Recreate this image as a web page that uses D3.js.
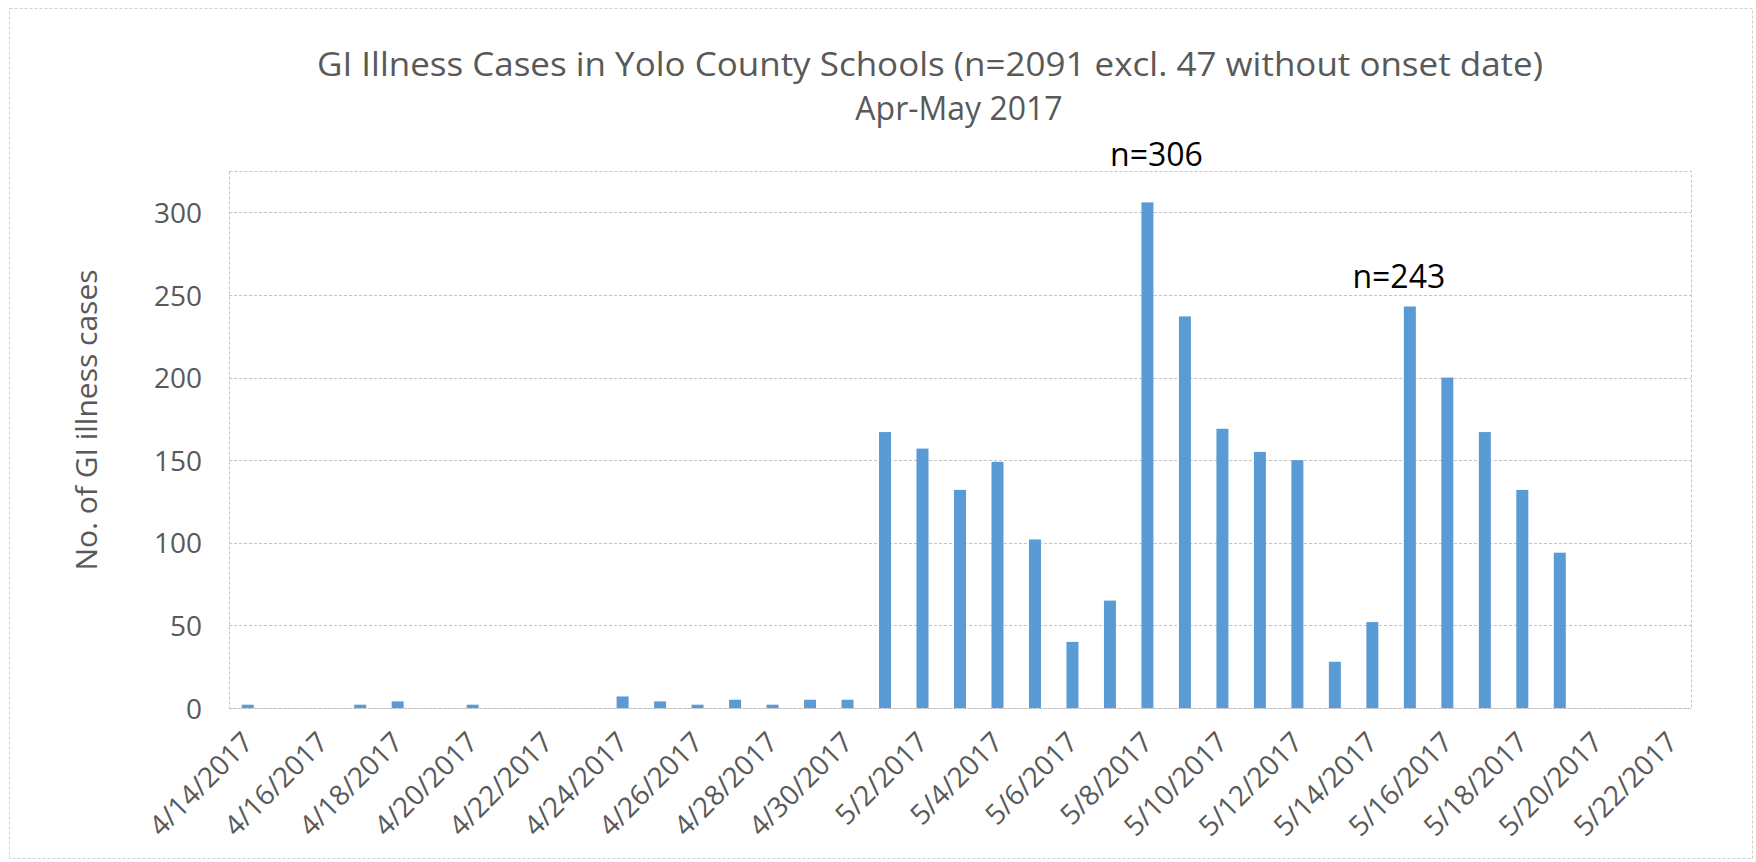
<!DOCTYPE html>
<html>
<head>
<meta charset="utf-8">
<script src="https://cdn.jsdelivr.net/npm/d3@7"></script>
<style>
    body { margin: 0; background: #fff; }
</style>
</head>
<body>
<div id="chart"></div>
<script>
// Chart data.
const dates = [
    "4/14/2017", "4/15/2017", "4/16/2017", "4/17/2017", "4/18/2017", "4/19/2017",
    "4/20/2017", "4/21/2017", "4/22/2017", "4/23/2017", "4/24/2017", "4/25/2017",
    "4/26/2017", "4/27/2017", "4/28/2017", "4/29/2017", "4/30/2017",
    "5/1/2017", "5/2/2017", "5/3/2017", "5/4/2017", "5/5/2017", "5/6/2017",
    "5/7/2017", "5/8/2017", "5/9/2017", "5/10/2017", "5/11/2017", "5/12/2017",
    "5/13/2017", "5/14/2017", "5/15/2017", "5/16/2017", "5/17/2017", "5/18/2017",
    "5/19/2017", "5/20/2017", "5/21/2017", "5/22/2017"
];
const cases = [
    2, 0, 0, 2, 4, 0, 2, 0, 0, 0, 7, 4, 2, 5, 2, 5, 5,
    167, 157, 132, 149, 102, 40, 65, 306, 237, 169, 155, 150, 28, 52, 243, 200, 167, 132, 94, 0, 0, 0
];
const tickDates = [
    "4/14/2017", "4/16/2017", "4/18/2017", "4/20/2017", "4/22/2017", "4/24/2017",
    "4/26/2017", "4/28/2017", "4/30/2017", "5/2/2017", "5/4/2017", "5/6/2017",
    "5/8/2017", "5/10/2017", "5/12/2017", "5/14/2017", "5/16/2017", "5/18/2017",
    "5/20/2017", "5/22/2017"
];
const yTicks = [0, 50, 100, 150, 200, 250, 300];
const yMax = 325;
const annotations = [
    { date: "5/8/2017", text: "n=306" },
    { date: "5/15/2017", text: "n=243" }
];
const titleLines = [
    "GI Illness Cases in Yolo County Schools (n=2091 excl. 47 without onset date)",
    "Apr-May 2017"
];
const yLabel = "No. of GI illness cases";

// Dimensions.
const width = 1756;
const height = 862;
const marginLeft = 229;
const marginRight = 65;
const marginTop = 171;
const marginBottom = 154;
const font = "'Open Sans', 'Noto Sans', sans-serif";
const textColor = "#595959";
const gridColor = "#c4c4c4";

const svg = d3.select("#chart")
    .append("svg")
    .attr("width", width)
    .attr("height", height)
    .attr("viewBox", [0, 0, width, height])
    .attr("font-family", font);

// Outer chart border.
svg.append("rect")
    .attr("x", 9.5)
    .attr("y", 8.5)
    .attr("width", width - 13)
    .attr("height", height - 12)
    .attr("fill", "none")
    .attr("stroke", "#d0d0d0")
    .attr("stroke-dasharray", "3,2");

const x = d3.scaleBand()
    .domain(dates)
    .range([marginLeft, width - marginRight])
    .paddingInner(0.68)
    .paddingOuter(0.34);

const y = d3.scaleLinear()
    .domain([0, yMax])
    .range([height - marginBottom, marginTop]);

// Gridlines.
svg.append("g")
    .attr("stroke", gridColor)
    .attr("stroke-dasharray", "3,2")
    .selectAll("line")
    .data(yTicks)
    .join("line")
        .attr("x1", marginLeft)
        .attr("x2", width - marginRight)
        .attr("y1", d => Math.round(y(d)) + 0.5)
        .attr("y2", d => Math.round(y(d)) + 0.5);

// Plot area border.
svg.append("rect")
    .attr("x", marginLeft + 0.5)
    .attr("y", marginTop + 0.5)
    .attr("width", width - marginRight - marginLeft)
    .attr("height", height - marginBottom - marginTop)
    .attr("fill", "none")
    .attr("stroke", gridColor)
    .attr("stroke-dasharray", "3,2");

// Bars.
svg.append("g")
    .attr("fill", "#5b9bd5")
    .selectAll("rect")
    .data(dates.map((d, i) => ({ date: d, value: cases[i] })))
    .join("rect")
        .attr("x", d => x(d.date))
        .attr("y", d => y(d.value))
        .attr("width", x.bandwidth())
        .attr("height", d => y(0) - y(d.value));

// Y axis.
const yAxis = svg.append("g")
    .attr("transform", `translate(${marginLeft - 27},0)`)
    .call(d3.axisLeft(y).tickValues(yTicks).tickSize(0).tickPadding(0));
yAxis.select(".domain").remove();
yAxis.selectAll("text")
    .attr("font-family", font)
    .attr("font-size", 28)
    .attr("fill", textColor)
    .attr("dy", "0.36em");

// X axis with rotated labels.
const xAxis = svg.append("g")
    .attr("transform", `translate(0,${height - marginBottom})`)
    .call(d3.axisBottom(x).tickValues(tickDates).tickSize(0).tickPadding(0));
xAxis.select(".domain").remove();
xAxis.selectAll("text")
    .attr("font-family", font)
    .attr("font-size", 28)
    .attr("fill", textColor)
    .attr("text-anchor", "end")
    .attr("dy", 0)
    .attr("transform", "translate(7,36) rotate(-45)");

// Y axis title.
svg.append("text")
    .attr("transform", `translate(97,420) rotate(-90)`)
    .attr("text-anchor", "middle")
    .attr("font-size", 30)
    .attr("fill", textColor)
    .text(yLabel);

// Title.
svg.append("text")
    .attr("x", 930)
    .attr("y", 76)
    .attr("text-anchor", "middle")
    .attr("font-size", 33)
    .attr("textLength", 1226)
    .attr("lengthAdjust", "spacingAndGlyphs")
    .attr("fill", textColor)
    .text(titleLines[0]);
svg.append("text")
    .attr("x", 959)
    .attr("y", 120)
    .attr("text-anchor", "middle")
    .attr("font-size", 32)
    .attr("fill", textColor)
    .text(titleLines[1]);

// Peak annotations, placed by hand above their bars.
const annotationOffsets = [{ dx: 9, dy: 36 }, { dx: -11, dy: 18 }];
svg.append("g")
    .attr("font-size", 32)
    .attr("fill", "#000")
    .attr("text-anchor", "middle")
    .selectAll("text")
    .data(annotations)
    .join("text")
        .attr("x", (d, i) => x(d.date) + x.bandwidth() / 2 + annotationOffsets[i].dx)
        .attr("y", (d, i) => y(cases[dates.indexOf(d.date)]) - annotationOffsets[i].dy)
        .text(d => d.text);
</script>
</body>
</html>
